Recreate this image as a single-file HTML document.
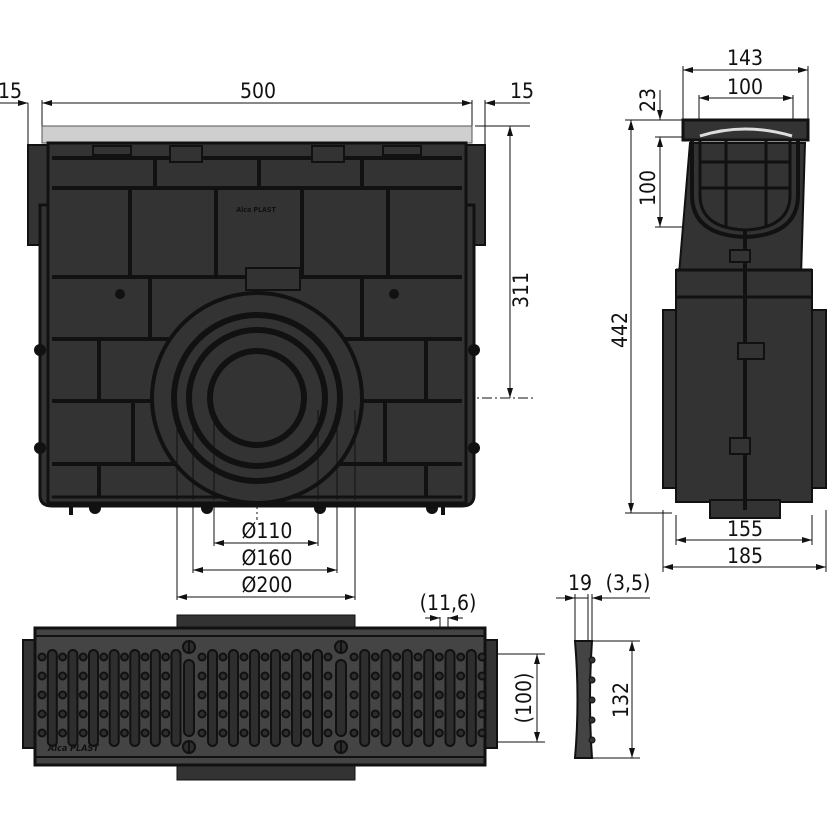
<!DOCTYPE html>
<html><head><meta charset="utf-8"><style>
html,body{margin:0;padding:0;background:#fff;width:830px;height:830px;overflow:hidden}
text{font-family:"DejaVu Sans Condensed","Liberation Sans",sans-serif;font-size:21px;fill:#111}
</style></head><body>
<svg id="s" width="830" height="830" viewBox="0 0 830 830" xmlns="http://www.w3.org/2000/svg">
<defs><marker id="a" viewBox="0 0 10 6" refX="10" refY="3" markerWidth="10" markerHeight="6" orient="auto-start-reverse"><path d="M0,0L10,3L0,6z" fill="#111"/></marker></defs>
<g stroke="#111" stroke-width="1" fill="none">
<line x1="28" y1="103" x2="28" y2="145"/><line x1="42" y1="100" x2="42" y2="126"/><line x1="472" y1="100" x2="472" y2="126"/><line x1="485" y1="100" x2="485" y2="145"/>
<line x1="42" y1="103" x2="472" y2="103" marker-start="url(#a)" marker-end="url(#a)"/>
<line x1="0" y1="103" x2="28" y2="103" marker-end="url(#a)"/><line x1="530" y1="103" x2="485" y2="103" marker-end="url(#a)"/>
<line x1="475" y1="126" x2="530" y2="126"/><line x1="510" y1="126" x2="510" y2="398" marker-start="url(#a)" marker-end="url(#a)"/>
<line x1="140" y1="398" x2="535" y2="398" stroke-dasharray="10,3,2,3"/>
<line x1="257" y1="265" x2="257" y2="520" stroke-dasharray="10,3,2,3"/>
<line x1="177" y1="410" x2="177" y2="600"/><line x1="355" y1="410" x2="355" y2="600"/>
<line x1="193" y1="410" x2="193" y2="573"/><line x1="337" y1="410" x2="337" y2="573"/>
<line x1="214" y1="410" x2="214" y2="546"/><line x1="318" y1="410" x2="318" y2="546"/>
<line x1="214" y1="543" x2="318" y2="543" marker-start="url(#a)" marker-end="url(#a)"/>
<line x1="193" y1="570" x2="337" y2="570" marker-start="url(#a)" marker-end="url(#a)"/>
<line x1="177" y1="597" x2="355" y2="597" marker-start="url(#a)" marker-end="url(#a)"/>
<line x1="488" y1="654" x2="545" y2="654"/><line x1="488" y1="742" x2="545" y2="742"/>
<line x1="537" y1="654" x2="537" y2="742" marker-start="url(#a)" marker-end="url(#a)"/>
<line x1="440" y1="617" x2="440" y2="655"/><line x1="448" y1="617" x2="448" y2="655"/>
<line x1="425" y1="618" x2="440" y2="618" marker-end="url(#a)"/><line x1="463" y1="618" x2="448" y2="618" marker-end="url(#a)"/>
<line x1="575" y1="594" x2="575" y2="641"/><line x1="588" y1="594" x2="588" y2="641"/><line x1="592" y1="594" x2="592" y2="641"/>
<line x1="556" y1="598" x2="575" y2="598" marker-end="url(#a)"/><line x1="608" y1="598" x2="592" y2="598" marker-end="url(#a)"/><line x1="575" y1="598" x2="588" y2="598"/><line x1="608" y1="598" x2="650" y2="598"/>
<line x1="592" y1="641" x2="640" y2="641"/><line x1="592" y1="758" x2="640" y2="758"/>
<line x1="632" y1="641" x2="632" y2="758" marker-start="url(#a)" marker-end="url(#a)"/>
<line x1="683" y1="66" x2="683" y2="125"/><line x1="808" y1="66" x2="808" y2="125"/>
<line x1="683" y1="70" x2="808" y2="70" marker-start="url(#a)" marker-end="url(#a)"/>
<line x1="699" y1="95" x2="699" y2="120"/><line x1="793" y1="95" x2="793" y2="120"/>
<line x1="699" y1="98" x2="793" y2="98" marker-start="url(#a)" marker-end="url(#a)"/>
<line x1="625" y1="120" x2="685" y2="120"/><line x1="655" y1="137" x2="685" y2="137"/><line x1="655" y1="227" x2="715" y2="227"/>
<line x1="660" y1="90" x2="660" y2="120" marker-end="url(#a)"/>
<line x1="660" y1="137" x2="660" y2="227" marker-start="url(#a)" marker-end="url(#a)"/>
<line x1="631" y1="120" x2="631" y2="513" marker-start="url(#a)" marker-end="url(#a)"/>
<line x1="625" y1="513" x2="672" y2="513"/>
<line x1="676" y1="515" x2="676" y2="545"/><line x1="812" y1="515" x2="812" y2="545"/>
<line x1="676" y1="540" x2="812" y2="540" marker-start="url(#a)" marker-end="url(#a)"/>
<line x1="663" y1="510" x2="663" y2="572"/><line x1="826" y1="510" x2="826" y2="572"/>
<line x1="663" y1="567" x2="826" y2="567" marker-start="url(#a)" marker-end="url(#a)"/>
</g>
<!-- FRONT VIEW -->
<rect x="42" y="126" width="430" height="17" fill="#cfcfcf" stroke="#555"/>
<path d="M28,145H52V262H40V245H28Z" fill="#333" stroke="#111" stroke-width="2"/>
<path d="M485,145H462V262H474V245H485Z" fill="#333" stroke="#111" stroke-width="2"/>
<path d="M40,205H474V495Q474,506 462,506H52Q40,506 40,495Z" fill="#333" stroke="#111" stroke-width="3"/>
<rect x="48" y="143" width="418" height="360" fill="#333" stroke="#111" stroke-width="3"/>
<g stroke="#111" stroke-width="4" fill="none">
<line x1="52" y1="158" x2="462" y2="158"/><line x1="52" y1="188" x2="462" y2="188"/>
<line x1="155" y1="160" x2="155" y2="186"/><line x1="259" y1="160" x2="259" y2="186"/><line x1="362" y1="160" x2="362" y2="186"/>
<line x1="52" y1="277" x2="462" y2="277"/>
<line x1="130" y1="190" x2="130" y2="275"/><line x1="216" y1="190" x2="216" y2="275"/><line x1="302" y1="190" x2="302" y2="275"/><line x1="388" y1="190" x2="388" y2="275"/>
<line x1="52" y1="339" x2="462" y2="339"/><line x1="150" y1="279" x2="150" y2="337"/><line x1="362" y1="279" x2="362" y2="337"/>
<line x1="52" y1="401" x2="462" y2="401"/><line x1="99" y1="341" x2="99" y2="399"/><line x1="426" y1="341" x2="426" y2="399"/>
<line x1="52" y1="464" x2="462" y2="464"/><line x1="133" y1="403" x2="133" y2="462"/><line x1="385" y1="403" x2="385" y2="462"/>
<line x1="99" y1="466" x2="99" y2="496"/><line x1="426" y1="466" x2="426" y2="496"/>
<line x1="52" y1="497" x2="462" y2="497" stroke-width="3"/>
</g>
<g fill="#333" stroke="#111" stroke-width="2">
<rect x="93" y="146" width="38" height="9"/><rect x="383" y="146" width="38" height="9"/>
<rect x="170" y="146" width="32" height="16"/><rect x="312" y="146" width="32" height="16"/>
<rect x="246" y="268" width="54" height="22"/>
</g>
<circle cx="257" cy="398" r="105" fill="#333" stroke="#111" stroke-width="4"/>
<g fill="none" stroke="#111" stroke-width="6"><circle cx="257" cy="398" r="83"/><circle cx="257" cy="398" r="68"/><circle cx="257" cy="398" r="47"/></g>
<g stroke="#111" stroke-width="1"><line x1="177" y1="410" x2="177" y2="500"/><line x1="193" y1="410" x2="193" y2="500"/><line x1="214" y1="410" x2="214" y2="500"/><line x1="318" y1="410" x2="318" y2="500"/><line x1="337" y1="410" x2="337" y2="500"/><line x1="355" y1="410" x2="355" y2="500"/></g>
<text x="256" y="212" style="font-size:7px;font-weight:bold" text-anchor="middle">Alca PLAST</text>
<g fill="#111"><circle cx="120" cy="294" r="5"/><circle cx="394" cy="294" r="5"/>
<circle cx="40" cy="350" r="6"/><circle cx="40" cy="448" r="6"/><circle cx="474" cy="350" r="6"/><circle cx="474" cy="448" r="6"/>
<circle cx="95" cy="508" r="6"/><circle cx="207" cy="508" r="6"/><circle cx="320" cy="508" r="6"/><circle cx="432" cy="508" r="6"/>
<rect x="69" y="505" width="4" height="10"/><rect x="441" y="505" width="4" height="10"/></g>
<!-- GRATE -->
<rect x="177" y="615" width="178" height="18" fill="#333" stroke="#111"/>
<rect x="177" y="760" width="178" height="20" fill="#333" stroke="#111"/>
<rect x="23" y="640" width="474" height="108" fill="#333" stroke="#111" stroke-width="2"/>
<rect x="35" y="628" width="450" height="137" fill="#444" stroke="#111" stroke-width="3"/>
<line x1="35" y1="636" x2="485" y2="636" stroke="#111" stroke-width="2"/><line x1="35" y1="757" x2="485" y2="757" stroke="#111" stroke-width="2"/>
<g id="gr" stroke="#111" fill="#2e2e2e" stroke-width="2"></g>
<text x="48" y="751" style="font-size:9px;font-weight:bold;font-style:italic">Alca PLAST</text>
<path d="M575,641H592Q588,700 592,758H575Q580,700 575,641Z" fill="#444" stroke="#111" stroke-width="2"/>
<g fill="#333" stroke="#111"><circle cx="592" cy="660" r="3"/><circle cx="592" cy="680" r="3"/><circle cx="592" cy="700" r="3"/><circle cx="592" cy="720" r="3"/><circle cx="592" cy="740" r="3"/></g>
<!-- SIDE VIEW -->
<path d="M690,143H805L800,310H676Z" fill="#333" stroke="#111" stroke-width="2"/>
<rect x="663" y="310" width="163" height="178" fill="#333" stroke="#111" stroke-width="2"/>
<rect x="676" y="270" width="136" height="232" fill="#333" stroke="#111" stroke-width="2"/>
<rect x="710" y="500" width="70" height="18" fill="#333" stroke="#111" stroke-width="2"/>
<line x1="676" y1="270" x2="812" y2="270" stroke="#111" stroke-width="3"/><line x1="676" y1="297" x2="812" y2="297" stroke="#111" stroke-width="3"/>
<path d="M683,120H808V140H683Z" fill="#333" stroke="#111" stroke-width="3"/>
<path d="M700,136Q745,122 792,136" stroke="#ddd" stroke-width="3" fill="none"/>
<path d="M692,140V195Q692,235 745,237Q798,235 798,195V140" fill="none" stroke="#111" stroke-width="4"/>
<path d="M700,140V195Q700,228 745,230Q790,228 790,195V140" fill="none" stroke="#111" stroke-width="3"/>
<g stroke="#111" stroke-width="3"><line x1="726" y1="140" x2="726" y2="228"/><line x1="766" y1="140" x2="766" y2="228"/><line x1="700" y1="162" x2="790" y2="162"/><line x1="700" y1="188" x2="790" y2="188"/></g>
<line x1="745" y1="230" x2="745" y2="510" stroke="#111" stroke-width="4"/>
<g fill="#333" stroke="#111" stroke-width="2"><rect x="730" y="250" width="20" height="12"/><rect x="738" y="343" width="26" height="16"/><rect x="730" y="438" width="20" height="16"/></g>
<g>
<text x="10" y="98" text-anchor="middle">15</text><text x="258" y="98" text-anchor="middle">500</text><text x="522" y="98" text-anchor="middle">15</text>
<text transform="translate(528,290) rotate(-90)" text-anchor="middle">311</text>
<text x="267" y="538" text-anchor="middle">Ø110</text><text x="267" y="565" text-anchor="middle">Ø160</text><text x="267" y="592" text-anchor="middle">Ø200</text>
<text x="448" y="610" text-anchor="middle">(11,6)</text>
<text transform="translate(531,698) rotate(-90)" text-anchor="middle">(100)</text>
<text x="580" y="590" text-anchor="middle">19</text><text x="628" y="590" text-anchor="middle">(3,5)</text>
<text transform="translate(628,700) rotate(-90)" text-anchor="middle">132</text>
<text x="745" y="65" text-anchor="middle">143</text><text x="745" y="94" text-anchor="middle">100</text>
<text transform="translate(655,100) rotate(-90)" text-anchor="middle">23</text>
<text transform="translate(655,188) rotate(-90)" text-anchor="middle">100</text>
<text transform="translate(627,330) rotate(-90)" text-anchor="middle">442</text>
<text x="745" y="536" text-anchor="middle">155</text><text x="745" y="563" text-anchor="middle">185</text>
</g>
</svg>
<script>
var g=document.getElementById('gr'),h='';
[[42,176],[202,328],[354,482]].forEach(function(s){
 var n=Math.round((s[1]-s[0])/10.5),st=(s[1]-s[0])/n;
 for(var i=0;i<=n;i++){var x=s[0]+i*st;
  if(i%2==0){for(var j=0;j<5;j++){h+='<circle cx="'+x.toFixed(1)+'" cy="'+(657+j*19)+'" r="3.5"/>';}}
  else{h+='<rect x="'+(x-4.5).toFixed(1)+'" y="650" width="9" height="96" rx="4.5"/>';}
 }
});
h+='<rect x="184" y="660" width="10" height="76" rx="5"/><rect x="336" y="660" width="10" height="76" rx="5"/>';
[189,341].forEach(function(x){h+='<circle cx="'+x+'" cy="647" r="6"/><line x1="'+x+'" y1="641" x2="'+x+'" y2="653"/><circle cx="'+x+'" cy="747" r="6"/><line x1="'+x+'" y1="741" x2="'+x+'" y2="753"/>';});
g.innerHTML=h;
</script>
</body></html>
